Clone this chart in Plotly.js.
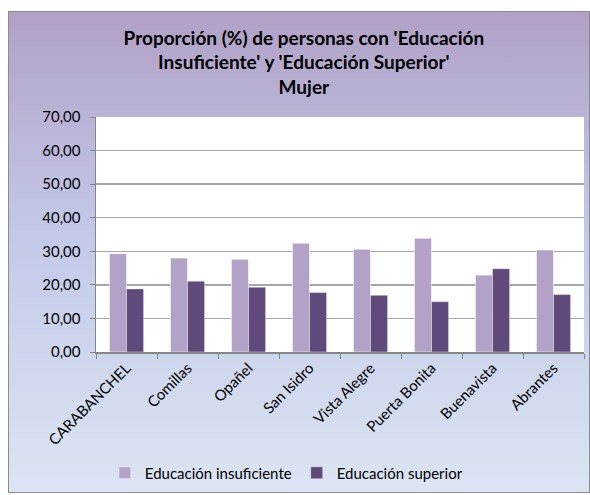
<!DOCTYPE html>
<html>
<head>
<meta charset="utf-8">
<script src="https://cdn.plot.ly/plotly-3.0.1.min.js"></script>
<style>
  html, body { margin: 0; padding: 0; background: #ffffff; }
  #wrap { position: relative; width: 590px; height: 495px; }
  #bg { position: absolute; left: 8px; top: 11px; width: 580px; height: 480px;
        border: 1px solid #8c8c8c;
        background: linear-gradient(to bottom, #b1a0c6 0%, #c2c8e8 45%, #dbe5f2 100%); }
  #chart { position: absolute; left: 0; top: 0; width: 590px; height: 495px; }
</style>
</head>
<body>
<div id="wrap"><div id="bg"></div><div id="chart"></div></div>
<script>
const categories = ['CARABANCHEL', 'Comillas', 'Opañel', 'San Isidro', 'Vista Alegre', 'Puerta Bonita', 'Buenavista', 'Abrantes'];
const educacionInsuficiente = [29.3, 28.0, 27.6, 32.4, 30.6, 33.9, 22.9, 30.4];
const educacionSuperior = [18.8, 21.1, 19.3, 17.7, 16.9, 15.0, 24.8, 17.1];
const yTicks = [0, 10, 20, 30, 40, 50, 60, 70];

const FONT = 'Lato, Carlito, Calibri, sans-serif';

const traces = [
  { type: 'bar', name: 'Educación insuficiente', x: categories, y: educacionInsuficiente,
    marker: { color: '#b3a2c7', line: { color: 'rgba(255,255,255,0.7)', width: 0.8 } } },
  { type: 'bar', name: 'Educación superior', x: categories, y: educacionSuperior,
    marker: { color: '#604a7b', line: { color: 'rgba(255,255,255,0.5)', width: 0.8 } } }
];

const layout = {
  width: 590, height: 495,
  paper_bgcolor: 'rgba(0,0,0,0)',
  plot_bgcolor: '#ffffff',
  separators: ',.',
  margin: { l: 96, r: 6, t: 117, b: 138 },
  barmode: 'group',
  bargap: 0.44,
  bargroupgap: 0,
  font: { family: FONT, color: '#000000', size: 14 },
  title: {
    text: "<b>Proporción (%) de personas con 'Educación<br>Insuficiente' y 'Educación Superior'<br>Mujer</b>",
    font: { family: FONT, size: 19, color: '#000000' },
    x: 0.515, xanchor: 'center', y: 0.91, yanchor: 'top'
  },
  xaxis: {
    type: 'category',
    tickangle: -45,
    tickfont: { family: FONT, size: 15, color: '#000000' },
    showline: true, linecolor: '#868686', linewidth: 1.5,
    ticks: 'outside', ticklen: 5, tickcolor: '#868686', tickson: 'boundaries',
    showgrid: false, mirror: false
  },
  yaxis: {
    range: [0, 70],
    tickvals: yTicks,
    tickformat: '.2f',
    tickfont: { family: FONT, size: 15, color: '#000000' },
    ticklabelstandoff: 6,
    showline: true, linecolor: '#868686', linewidth: 1.5,
    ticks: 'outside', ticklen: 5, tickcolor: '#868686',
    gridcolor: '#a6a6a6', gridwidth: 1.3,
    zeroline: false
  },
  legend: {
    orientation: 'h', x: 0.39, xanchor: 'center', y: -0.445, yanchor: 'top',
    font: { family: FONT, size: 15, color: '#000000' },
    bgcolor: 'rgba(0,0,0,0)', itemwidth: 30, traceorder: 'normal'
  },
  showlegend: true
};

Plotly.newPlot('chart', traces, layout, { displayModeBar: false, staticPlot: true });
</script>
</body>
</html>
